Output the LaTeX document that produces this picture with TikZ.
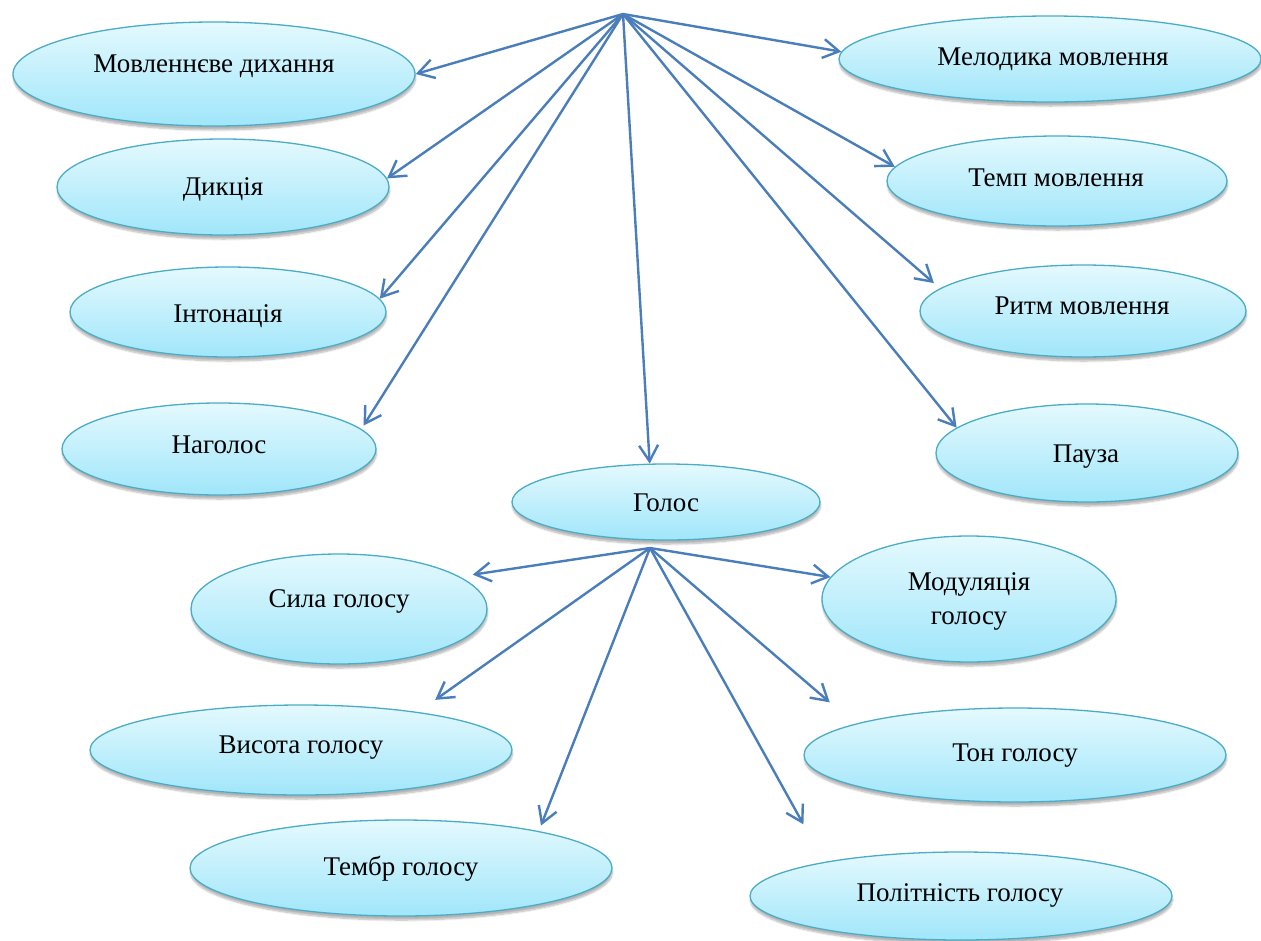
\documentclass[tikz,border=0pt]{standalone}
\usepackage{fontspec}
\setmainfont{Liberation Serif}
\usetikzlibrary{shapes.geometric,arrows.meta,shadows.blur}
\definecolor{edgec}{RGB}{75,172,198}
\definecolor{topc}{RGB}{228,249,254}
\definecolor{botc}{RGB}{160,230,250}
\definecolor{arrc}{RGB}{74,126,187}
\tikzset{
  ell/.style={ellipse, draw=edgec, line width=1.3pt, top color=topc, bottom color=botc, inner sep=0pt,
    blur shadow={shadow xshift=0.5pt, shadow yshift=-4pt, shadow blur steps=8, shadow opacity=30}},
  lbl/.style={font=\fontsize{27}{34}\selectfont, text height=18pt, text depth=0pt, inner sep=0pt, align=center},
  link/.style={draw=arrc, line width=2.4pt, -{Straight Barb[length=16pt,width=19pt]}}
}
\begin{document}
\begin{tikzpicture}[x=1pt,y=-1pt]
\useasboundingbox (0,0) rectangle (1261,940);
% hubs
\coordinate (top) at (623,14);
\coordinate (ghub) at (650,548);
% ellipses
\node[ell, minimum width=402pt, minimum height=104pt] (e1) at (214,74) {};
\node[ell, minimum width=332pt, minimum height=96pt] (e2) at (223,187) {};
\node[ell, minimum width=316pt, minimum height=90pt] (e3) at (228,312) {};
\node[ell, minimum width=314pt, minimum height=92pt] (e4) at (219,449) {};
\node[ell, minimum width=422pt, minimum height=86pt] (e5) at (1050,59) {};
\node[ell, minimum width=340pt, minimum height=90pt] (e6) at (1057,181) {};
\node[ell, minimum width=326pt, minimum height=92pt] (e7) at (1083,311) {};
\node[ell, minimum width=302pt, minimum height=98pt] (e8) at (1087,453) {};
\node[ell, minimum width=308pt, minimum height=76pt] (e9) at (666,502) {};
\node[ell, minimum width=296pt, minimum height=110pt] (e10) at (339,609) {};
\node[ell, minimum width=294pt, minimum height=126pt] (e11) at (969,599) {};
\node[ell, minimum width=422pt, minimum height=90pt] (e12) at (301,750) {};
\node[ell, minimum width=422pt, minimum height=94pt] (e13) at (1015,755) {};
\node[ell, minimum width=422pt, minimum height=96pt] (e14) at (401,868) {};
\node[ell, minimum width=422pt, minimum height=88pt] (e15) at (961,896) {};
% labels
\node[lbl] (t1) at (214,63) {Мовленнєве дихання};
\node[lbl] (t2) at (223,186) {Дикція};
\node[lbl] (t3) at (228,313) {Інтонація};
\node[lbl] (t4) at (219,444) {Наголос};
\node[lbl] (t5) at (1053,56) {Мелодика мовлення};
\node[lbl] (t6) at (1056,177) {Темп мовлення};
\node[lbl] (t7) at (1082,305) {Ритм мовлення};
\node[lbl] (t8) at (1086,453) {Пауза};
\node[lbl] (t9) at (666,502) {Голос};
\node[lbl] (t10) at (339,598) {Сила голосу};
\node[lbl] (t11a) at (969,581) {Модуляція};
\node[lbl] (t11b) at (969,615) {голосу};
\node[lbl] (t12) at (301,744) {Висота голосу};
\node[lbl] (t13) at (1015,752) {Тон голосу};
\node[lbl] (t14) at (401,866) {Тембр голосу};
\node[lbl] (t15) at (960,892) {Політність голосу};
% connectors from top hub
\draw[link] (top) -- (e1.0);
\draw[link] (top) -- (e2.3);
\draw[link] (top) -- (e3.5);
\draw[link, shorten >=4pt] (top) -- (e4.8);
\draw[link] (top) -- (e9.113);
\draw[link] (top) -- (e5.178);
\draw[link] (top) -- (e6.175);
\draw[link, shorten >=8pt] (top) -- (e7.171);
\draw[link] (top) -- (e8.169);
% connectors from Голос hub
\draw[link, shorten >=13pt] (ghub) -- (e10.15);
\draw[link] (ghub) -- (e11.171);
\draw[link, shorten >=21pt] (ghub) -- (e12.18);
\draw[link, shorten >=6pt] (ghub) -- (e14.15);
\draw[link, shorten >=33pt] (ghub) -- (e13.169.5);
\draw[link, shorten >=43pt] (ghub) -- (e15.166);
\end{tikzpicture}
\end{document}
